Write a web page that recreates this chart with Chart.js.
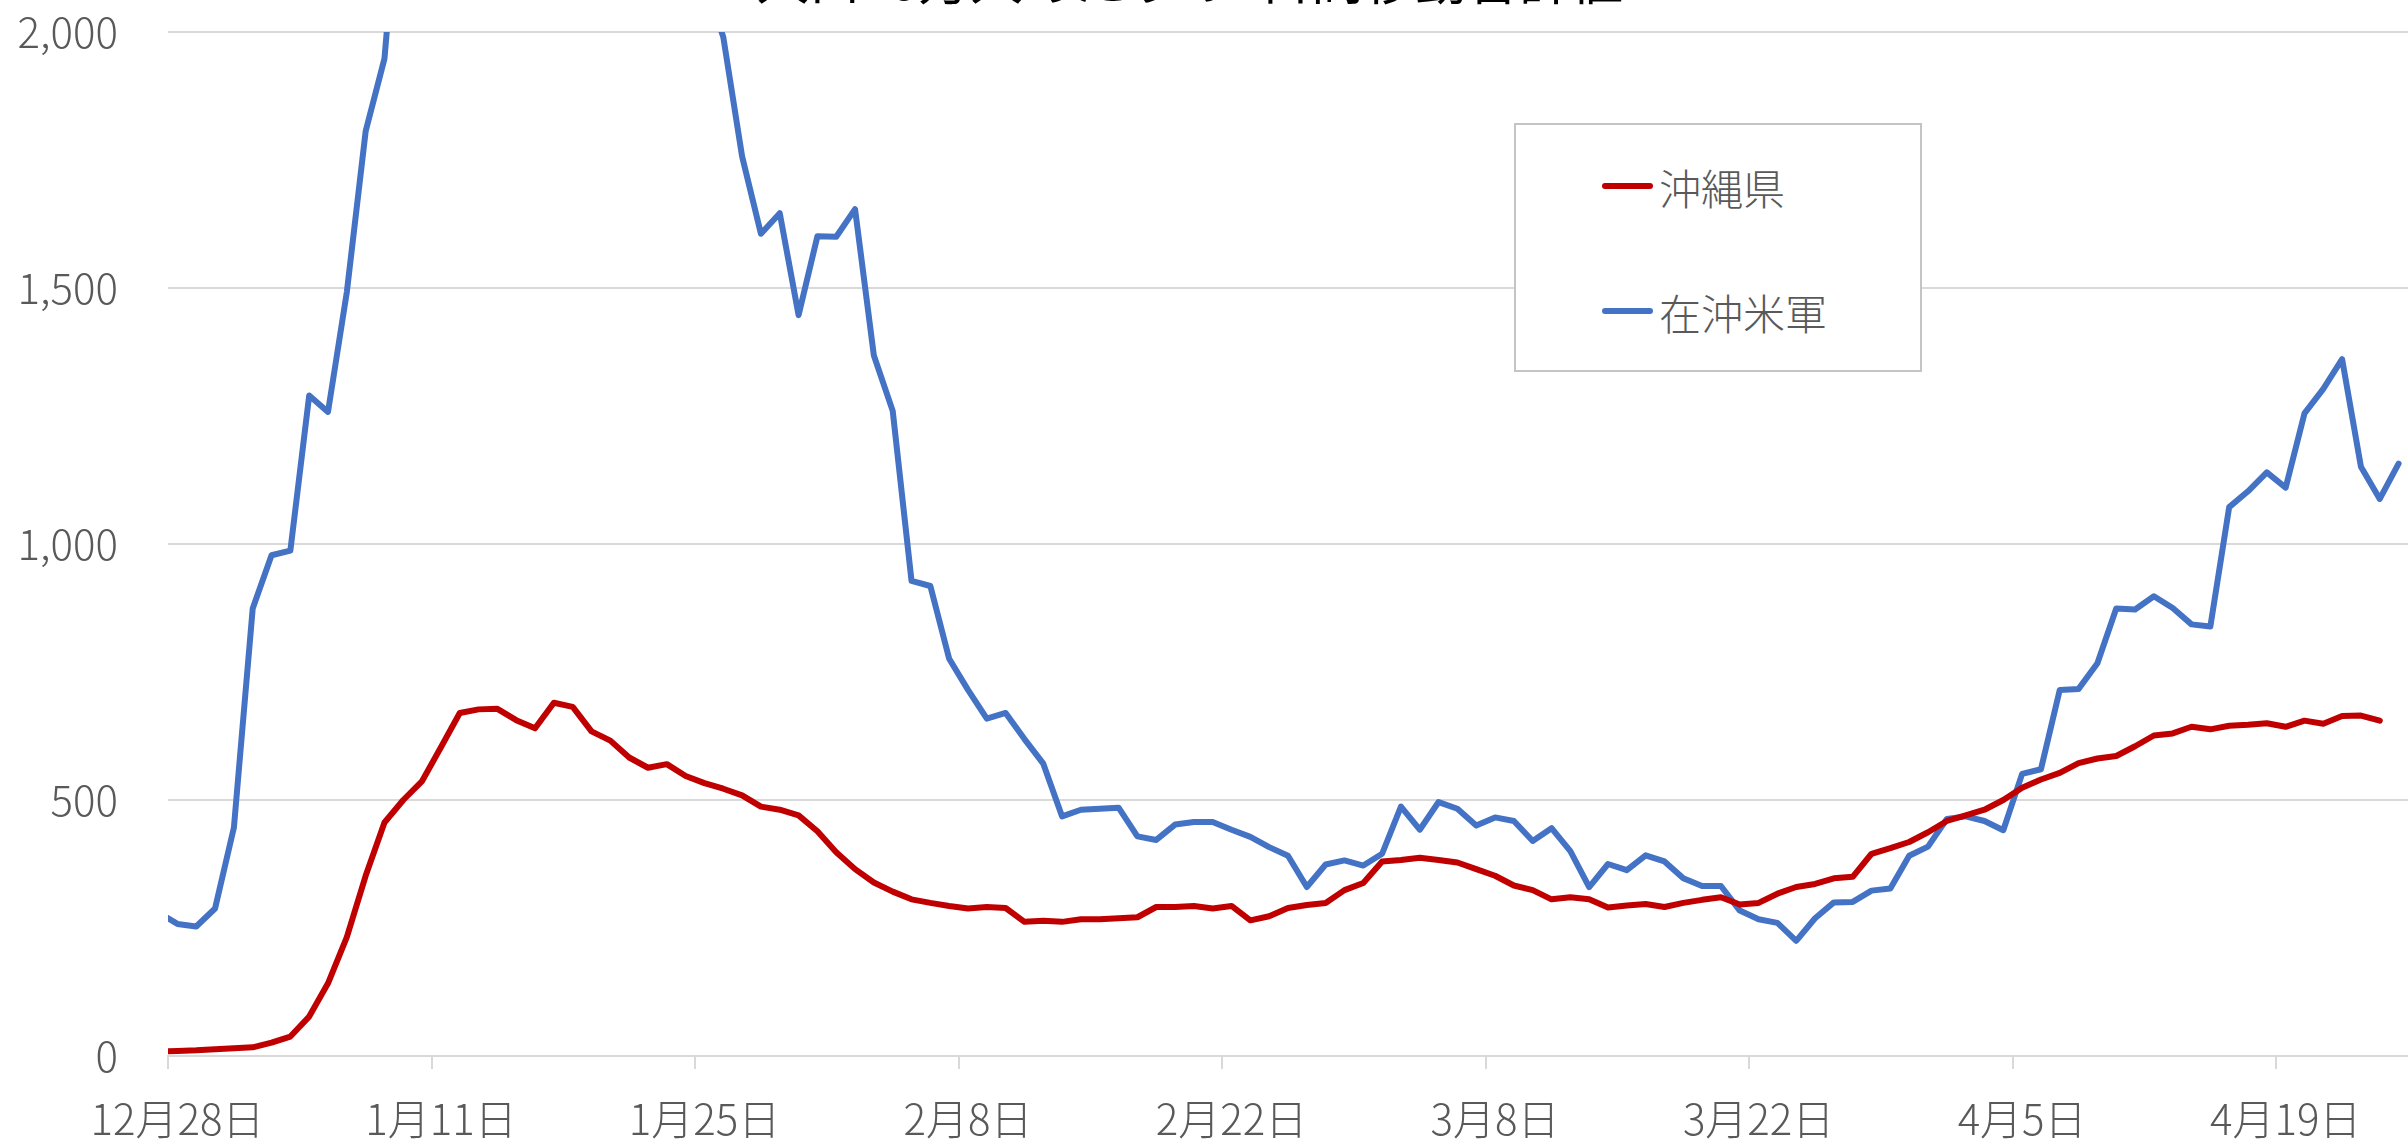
<!DOCTYPE html>
<html>
<head>
<meta charset="utf-8">
<script src="https://cdn.jsdelivr.net/npm/chart.js@4/dist/chart.umd.min.js"></script>
<style>
  html, body { margin: 0; padding: 0; background: #fff; overflow: hidden; }
  #wrap { position: relative; width: 2408px; height: 1142px; }
  #legend {
    position: absolute; left: 1514px; top: 123px; width: 404px; height: 245px;
    border: 2px solid #c4c4c4; background: #fff; box-sizing: content-box;
    font-family: 'Noto Sans CJK JP', sans-serif; font-weight: 300; font-size: 42px; color: #595959;
  }
  .item { position: absolute; left: 86px; height: 50px; display: flex; align-items: center; }
  .sw { width: 51px; height: 6px; border-radius: 3px; margin-right: 6px; }
</style>
</head>
<body>
<div id="wrap">
  <canvas id="c"></canvas>
  <div id="legend"></div>
</div>
<script>
// ---- data ----
const titleText = '人口10万人あたりの7日間移動合計値';
const seriesNames = ['沖縄県', '在沖米軍'];
const seriesColors = ['#C00000', '#4472C4'];
const tickLabels = ['12月28日', '1月11日', '1月25日', '2月8日', '2月22日', '3月8日', '3月22日', '4月5日', '4月19日'];
const firstVisible = '12月28日';

// daily categories 12/27 .. 4/25
const categories = [];
(function () {
  const d = new Date(2020, 11, 27);
  for (let i = 0; i < 120; i++) {
    categories.push((d.getMonth() + 1) + '月' + d.getDate() + '日');
    d.setDate(d.getDate() + 1);
  }
})();

const okinawa = [
  9,
  10, 11, 13, 15, 17, 26, 38, 77, 142, 232, 352, 456, 500, 537,
  603, 670, 677, 678, 656, 640, 690, 682, 634, 616, 583, 563, 570, 547,
  533, 522, 509, 487, 481, 470, 439, 398, 365, 339, 321, 306, 299, 293,
  288, 291, 289, 262, 264, 262, 267, 267, 269, 271, 291, 291, 293, 288,
  293, 265, 273, 289, 295, 299, 324, 338, 380, 383, 387, 383, 378, 365,
  352, 333, 324, 306, 310, 306, 290, 294, 297, 291, 299, 305, 310, 296,
  299, 317, 330, 336, 347, 350, 395, 406, 418, 437, 459, 470, 481, 500,
  524, 540, 553, 572, 581, 586, 605, 626, 630, 643, 638, 645, 647, 650,
  643, 655, 649, 664, 665, 655, null
];

const usForces = [
  280,
  258, 253, 288, 446, 874, 978, 987, 1290, 1258, 1492, 1806, 1948, 2380, 2700,
  2950, 3150, 3300, 3400, 3450, 3400, 3300, 3150, 2950, 2750, 2550, 2400, 2250, 2150,
  2100, 1990, 1757, 1606, 1646, 1447, 1601, 1600, 1654, 1368, 1260, 928, 918, 776,
  715, 659, 670, 619, 571, 468, 481, 483, 485, 429, 422, 452, 457, 457,
  442, 428, 408, 391, 330, 374, 382, 372, 395, 487, 442, 496, 483, 450,
  466, 459, 420, 445, 400, 330, 375, 363, 392, 380, 347, 332, 332, 284,
  267, 260, 225, 269, 300, 301, 323, 327, 391, 409, 463, 468, 459, 441,
  551, 560, 715, 717, 767, 874, 872, 898, 875, 843, 839, 1072, 1103, 1140,
  1110, 1255, 1303, 1361, 1151, 1088, 1157
];

const yMin = 0, yMax = 2000, yStep = 500;

// ---- chart ----
const FONT = "'Noto Sans CJK JP', 'Noto Sans', sans-serif";
const GRID = '#d9d9d9';
const TEXT = '#595959';

const titlePlugin = {
  id: 'cutTitle',
  afterDraw(chart) {
    const ctx = chart.ctx;
    ctx.save();
    ctx.font = '400 52px ' + FONT;
    ctx.fillStyle = '#000';
    ctx.textAlign = 'center';
    ctx.textBaseline = 'alphabetic';
    ctx.fillText(titleText, 1190, 0);
    ctx.restore();
  }
};

const chart = new Chart(document.getElementById('c'), {
  type: 'line',
  data: {
    labels: categories,
    datasets: [
      { label: seriesNames[0], data: okinawa, borderColor: seriesColors[0], backgroundColor: seriesColors[0] },
      { label: seriesNames[1], data: usForces, borderColor: seriesColors[1], backgroundColor: seriesColors[1] }
    ]
  },
  options: {
    responsive: true,
    maintainAspectRatio: false,
    animation: false,
    devicePixelRatio: 1,
    layout: { padding: { top: 32, right: 0, bottom: 0, left: 0 } },
    elements: {
      line: { borderWidth: 6, tension: 0, borderJoinStyle: 'round', borderCapStyle: 'round' },
      point: { radius: 0, hoverRadius: 0 }
    },
    datasets: { line: { clip: 0, spanGaps: false } },
    plugins: { legend: { display: false }, title: { display: false }, tooltip: { enabled: false } },
    scales: {
      x: {
        type: 'category',
        offset: true,
        min: firstVisible,
        afterFit(scale) { scale.paddingLeft = 0; scale.paddingRight = 0; scale.height = 86; },
        grid: {
          offset: true,
          drawOnChartArea: false,
          drawTicks: true,
          tickLength: 13,
          lineWidth: 2,
          color: GRID,
          tickColor: (ctx) => (ctx.tick && ctx.tick.label) ? GRID : 'rgba(0,0,0,0)'
        },
        border: { display: true, color: GRID, width: 2 },
        ticks: {
          autoSkip: false,
          maxRotation: 0,
          minRotation: 0,
          padding: 25,
          color: TEXT,
          font: { family: FONT, size: 42, weight: 300 },
          callback: function (value) {
            const lab = this.getLabelForValue(value);
            return tickLabels.includes(lab) ? lab : '';
          }
        }
      },
      y: {
        min: yMin,
        max: yMax,
        afterFit(scale) { scale.width = 168; scale.paddingTop = 25; scale.paddingBottom = 25; },
        grid: { color: GRID, lineWidth: 2, drawTicks: false },
        border: { display: false },
        ticks: {
          stepSize: yStep,
          padding: 50,
          color: TEXT,
          font: { family: FONT, size: 42, weight: 300 },
          callback: (v) => v.toLocaleString('en-US')
        }
      }
    }
  },
  plugins: [titlePlugin]
});

// ---- legend (HTML, built from the datasets) ----
const legend = document.getElementById('legend');
chart.data.datasets.forEach((ds, i) => {
  const it = document.createElement('div');
  it.className = 'item';
  it.style.top = (36 + i * 125) + 'px';
  const sw = document.createElement('div');
  sw.className = 'sw';
  sw.style.background = ds.borderColor;
  const tx = document.createElement('span');
  tx.textContent = ds.label;
  it.appendChild(sw);
  it.appendChild(tx);
  legend.appendChild(it);
});
</script>
</body>
</html>
